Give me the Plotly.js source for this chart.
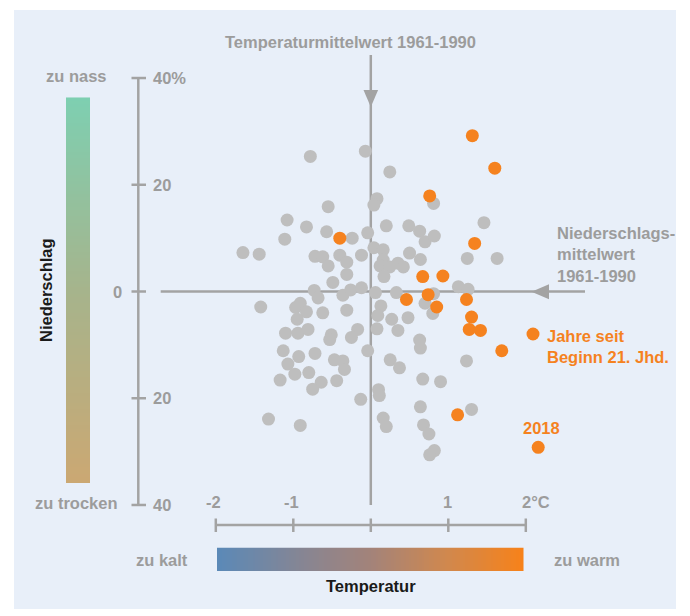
<!DOCTYPE html>
<html>
<head>
<meta charset="utf-8">
<script src="https://cdn.plot.ly/plotly-3.0.1.min.js"></script>
<style>html,body{margin:0;padding:0;background:#fff;}#chart{width:690px;height:616px;}</style>
</head>
<body>
<div id="chart"></div>
<script>
// ---- Data: temperature anomaly (°C) vs precipitation anomaly (%) relative to 1961-1990 ----
const grayTemp = [-0.78,-0.07,0.245,0.08,0.04,-0.55,-1.08,-0.83,-0.57,-0.24,-0.04,0.20,-1.11,-1.65,-1.44,-0.72,-0.62,-0.40,-0.31,-0.55,
  -0.12,0.04,0.16,0.16,0.12,0.245,0.35,0.42,0.50,0.64,0.17,-0.31,-0.49,-0.73,-0.68,-0.36,-0.26,-0.12,0.06,1.46,
  0.49,0.63,0.70,0.82,0.81,1.245,1.63,1.13,1.255,0.33,0.81,0.70,0.80,-1.42,-0.97,-0.91,-0.83,-0.95,-0.62,-0.31,
  0.13,0.09,0.27,0.48,0.35,0.08,-1.10,-0.94,-0.81,-0.51,-0.53,-0.17,-0.25,-0.04,-1.13,-1.07,-0.98,-0.93,-0.72,-0.80,
  -0.47,-0.36,-0.34,-1.17,-0.64,-0.75,-0.44,-0.13,0.10,0.11,-1.32,-0.91,0.16,0.20,0.63,0.64,0.25,0.37,0.67,0.90,
  0.64,1.30,0.68,0.75,0.82,0.76,1.235];
const grayPrec = [25.3,26.3,22.4,17.4,16.2,15.9,13.4,12.1,11.2,10.0,11.0,12.3,9.8,7.3,7.0,6.6,6.5,6.8,5.5,4.8,
  6.8,8.2,7.8,5.9,4.8,4.6,5.3,4.6,7.2,6.0,2.8,3.2,1.7,0.2,-1.2,-0.7,0.3,0.7,-0.2,12.9,
  12.3,11.3,9.3,10.4,16.5,6.2,6.2,0.9,0.4,-0.2,-0.4,-2.2,-4.1,-2.9,-3.0,-2.2,-3.8,-5.2,-4.0,-3.5,
  -2.7,-4.5,-5.2,-4.9,-7.3,-7.0,-7.8,-7.8,-7.1,-8.1,-9.0,-7.1,-8.6,-11.1,-11.1,-13.6,-15.5,-12.2,-11.6,-15.2,
  -12.8,-13.0,-14.6,-16.6,-17.0,-18.3,-16.7,-20.2,-18.4,-19.5,-23.9,-25.1,-23.7,-25.3,-9.1,-10.6,-12.8,-14.3,-16.4,-16.9,
  -21.6,-22.1,-25.0,-26.7,-29.8,-30.6,-13.0];
const recentTemp = [1.31,1.60,0.76,1.34,-0.40,0.67,0.93,0.46,0.74,0.85,1.235,1.30,1.27,1.415,1.69,1.12,2.16];
const recentPrec = [29.2,23.1,17.9,9.0,10.0,2.8,2.9,-1.5,-0.6,-2.9,-1.5,-4.8,-7.1,-7.3,-11.1,-23.1,-29.2];

const precTickVals = [40,20,0,-20,-40];
const precTickText = ['40%','20','0','20','40'];
const tempTickVals = [-2,-1,0,1,2];
const tempTickText = ['-2','-1','','1','2°C'];

// ---- Styling ----
const W = 690, H = 616;
const GRAY_TXT = '#9c9c9c', LINE = '#a3a3a3', ORANGE = '#f5821f', PT_GRAY = '#bebebe';
const FONT = 'Liberation Sans, Arial, sans-serif';
const FS = 16.5;
const PX = v => v / W;          // pixel -> paper x
const PY = v => 1 - v / H;      // pixel -> paper y

const N = 120;
const ramp = Array.from({length: N}, (_, i) => i);

const traces = [
  {type: 'heatmap', xaxis: 'x2', yaxis: 'y2', z: [ramp], showscale: false, hoverinfo: 'skip',
   colorscale: [[0, '#5b89b7'], [0.3, '#8a8590'], [0.5, '#a3837a'], [0.75, '#d0884e'], [1, '#f7821a']]},
  {type: 'heatmap', xaxis: 'x3', yaxis: 'y3', z: ramp.map(v => [v]), showscale: false, hoverinfo: 'skip',
   colorscale: [[0, '#cba873'], [0.5, '#a6b48c'], [1, '#7ecfb1']]},
  {type: 'scatter', mode: 'markers', x: grayTemp, y: grayPrec, name: '1881-2000',
   marker: {color: PT_GRAY, size: 13, line: {width: 0}}, hoverinfo: 'x+y', showlegend: false},
  {type: 'scatter', mode: 'markers', x: recentTemp, y: recentPrec, name: 'Jahre seit Beginn 21. Jhd.',
   marker: {color: ORANGE, size: 13, line: {width: 0}}, hoverinfo: 'x+y', showlegend: false}
];

const shapes = [
  // panel background
  {type: 'rect', xref: 'paper', yref: 'paper', x0: PX(14), x1: PX(676), y0: PY(10), y1: PY(609),
   fillcolor: '#e8eff9', line: {width: 0}, layer: 'below'},
  // precipitation axis (left)
  {type: 'line', xref: 'paper', yref: 'y', x0: PX(138.3), x1: PX(138.3), y0: -40, y1: 40, line: {color: LINE, width: 2.5}},
  // temperature axis (bottom)
  {type: 'line', xref: 'x', yref: 'paper', x0: -2, x1: 2, y0: PY(525), y1: PY(525), line: {color: LINE, width: 2.5}},
  // zero lines (means 1961-1990)
  {type: 'line', xref: 'x', yref: 'paper', x0: 0, x1: 0, y0: PY(55), y1: PY(505), line: {color: LINE, width: 2.5}, layer: 'below'},
  {type: 'line', xref: 'paper', yref: 'y', x0: PX(160.7), x1: PX(585), y0: 0, y1: 0, line: {color: LINE, width: 2.5}, layer: 'below'},
  // arrowheads
  {type: 'path', xref: 'paper', yref: 'paper',
   path: `M ${PX(370.8)} ${PY(107)} L ${PX(363.5)} ${PY(90)} L ${PX(378.1)} ${PY(90)} Z`,
   fillcolor: LINE, line: {width: 0}},
  {type: 'path', xref: 'paper', yref: 'paper',
   path: `M ${PX(531.5)} ${PY(291.8)} L ${PX(549)} ${PY(284.3)} L ${PX(549)} ${PY(299.3)} Z`,
   fillcolor: LINE, line: {width: 0}},
  // legend key dot
  {type: 'circle', xref: 'paper', yref: 'paper', x0: PX(526.5), x1: PX(539.5), y0: PY(327.5), y1: PY(340.5),
   fillcolor: ORANGE, line: {width: 0}}
];
// tick marks
precTickVals.forEach(v => shapes.push({type: 'line', xref: 'paper', yref: 'y', x0: PX(131.5), x1: PX(146), y0: v, y1: v,
  line: {color: LINE, width: 2.5}}));
tempTickVals.forEach(v => shapes.push({type: 'line', xref: 'x', yref: 'paper', x0: v, x1: v, y0: PY(518.5), y1: PY(532),
  line: {color: LINE, width: 2.5}}));

const ann = (text, x, y, opts = {}) => Object.assign({
  text: '<b>' + text + '</b>', xref: 'paper', yref: 'paper', x: PX(x), y: PY(y),
  showarrow: false, xanchor: 'center', yanchor: 'middle',
  font: {family: FONT, size: FS, color: GRAY_TXT}
}, opts);

const annotations = [
  ann('Temperaturmittelwert 1961-1990', 350.5, 42),
  ann('zu nass', 76.5, 76),
  ann('zu trocken', 76.5, 503),
  ann('Niederschlag', 46, 290, {textangle: -90, font: {family: FONT, size: FS, color: '#1a1a1a'}}),
  ann('zu kalt', 162, 560),
  ann('zu warm', 587, 560),
  ann('Temperatur', 371, 586, {font: {family: FONT, size: FS, color: '#1a1a1a'}}),
  ann('Niederschlags-<br>mittelwert<br>1961-1990', 555, 254.5, {xanchor: 'left', align: 'left'}),
  ann('Jahre seit<br>Beginn 21. Jhd.', 545, 346, {xanchor: 'left', align: 'left', font: {family: FONT, size: FS, color: ORANGE}}),
  ann('2018', 541.5, 428, {font: {family: FONT, size: FS, color: ORANGE}})
];
// precipitation tick labels
precTickVals.forEach((v, i) => {
  if (v === 0) {
    annotations.push({text: '<b>' + precTickText[i] + '</b>', xref: 'paper', yref: 'y', x: PX(124), y: v,
      xanchor: 'right', yanchor: 'middle', showarrow: false, font: {family: FONT, size: FS, color: GRAY_TXT}});
  } else {
    annotations.push({text: '<b>' + precTickText[i] + '</b>', xref: 'paper', yref: 'y', x: PX(151), y: v,
      xanchor: 'left', yanchor: 'middle', showarrow: false, font: {family: FONT, size: FS, color: GRAY_TXT}});
  }
});
// temperature tick labels
tempTickVals.forEach((v, i) => {
  if (!tempTickText[i]) return;
  const last = i === tempTickVals.length - 1;
  annotations.push({text: '<b>' + tempTickText[i] + '</b>', xref: 'x', yref: 'paper', x: v, y: PY(501.5),
    xanchor: last ? 'left' : 'center', xshift: last ? -6 : (v < 0 ? -2 : -1), yanchor: 'middle', showarrow: false,
    font: {family: FONT, size: FS, color: GRAY_TXT}});
});

const hidden = {visible: false, showgrid: false, zeroline: false, fixedrange: true};
const layout = {
  width: W, height: H, autosize: false,
  margin: {l: 0, r: 0, t: 0, b: 0, pad: 0},
  paper_bgcolor: '#ffffff', plot_bgcolor: 'rgba(0,0,0,0)',
  showlegend: false,
  xaxis: Object.assign({}, hidden, {range: [-370.8 / 77.5, (690 - 370.8) / 77.5], domain: [0, 1]}),
  yaxis: Object.assign({}, hidden, {range: [(291.5 - 616) / 5.337, 291.5 / 5.337], domain: [0, 1]}),
  xaxis2: Object.assign({}, hidden, {domain: [PX(217), PX(523.5)], anchor: 'y2', range: [-0.5, N - 0.5]}),
  yaxis2: Object.assign({}, hidden, {domain: [PY(571), PY(547.5)], anchor: 'x2', range: [-0.5, 0.5]}),
  xaxis3: Object.assign({}, hidden, {domain: [PX(66), PX(90)], anchor: 'y3', range: [-0.5, 0.5]}),
  yaxis3: Object.assign({}, hidden, {domain: [PY(483), PY(97.3)], anchor: 'x3', range: [-0.5, N - 0.5]}),
  shapes: shapes,
  annotations: annotations,
  hovermode: 'closest'
};

Plotly.newPlot('chart', traces, layout, {displayModeBar: false, staticPlot: false});
</script>
</body>
</html>
